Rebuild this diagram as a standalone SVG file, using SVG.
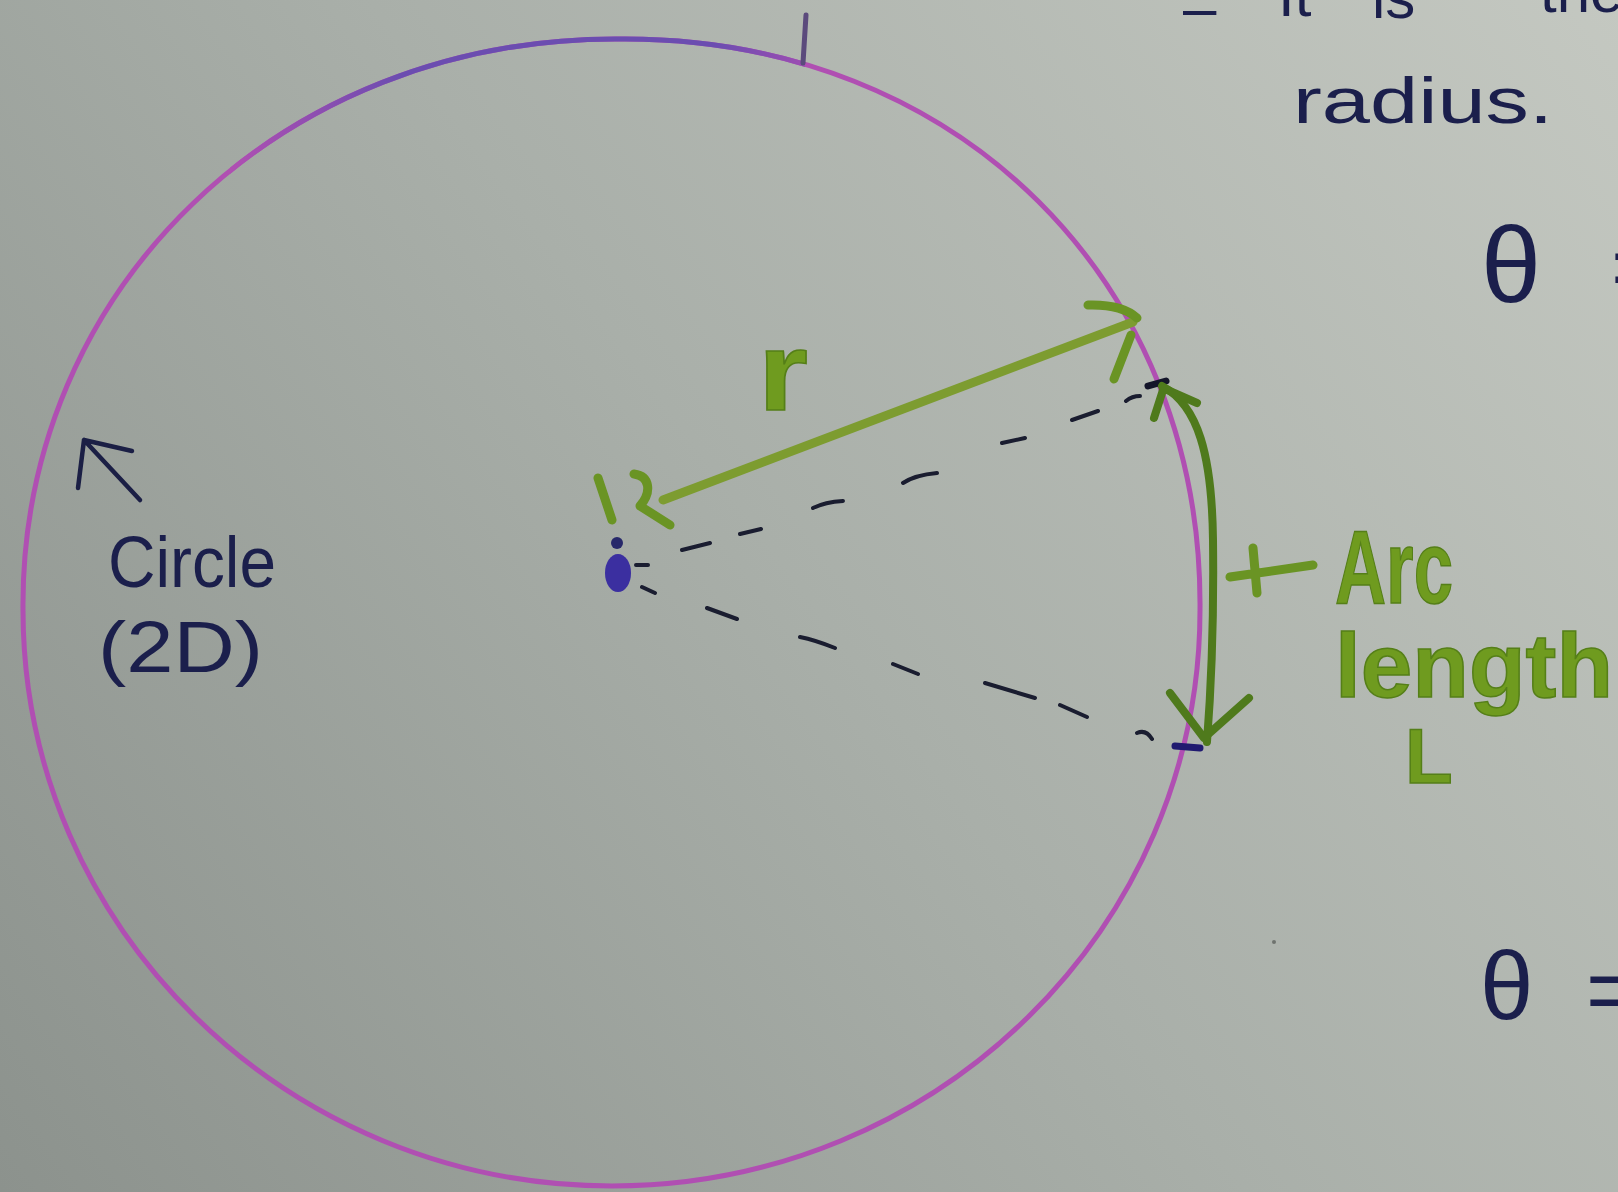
<svg xmlns="http://www.w3.org/2000/svg" width="1618" height="1192" viewBox="0 0 1618 1192">
  <defs>
    <linearGradient id="bg" gradientUnits="userSpaceOnUse" x1="1618" y1="0" x2="0" y2="1192">
      <stop offset="0" stop-color="#c4c8c1"/>
      <stop offset="0.5" stop-color="#a9afa9"/>
      <stop offset="1" stop-color="#8c928d"/>
    </linearGradient>
    <linearGradient id="topBlue" gradientUnits="userSpaceOnUse" x1="230" y1="0" x2="800" y2="0">
      <stop offset="0" stop-color="#b04fb2"/>
      <stop offset="0.3" stop-color="#6b4db0"/>
      <stop offset="0.85" stop-color="#6b4db0"/>
      <stop offset="1" stop-color="#9a4db2"/>
    </linearGradient>
    <clipPath id="topClip">
      <rect x="230" y="0" width="575" height="200"/>
    </clipPath>
    <path id="circlePath" d="M23,610 C20,290 280,37 619,39 C960,36 1203,285 1200,610 C1200,928 937,1186 612,1186 C287,1186 23,928 23,610 Z"/>
  </defs>
  <style>
    .ink { fill: none; stroke: #1b1f45; stroke-width: 4.5; stroke-linecap: round; stroke-linejoin: round; }
    .dash { fill: none; stroke: #1a1d30; stroke-width: 4; stroke-linecap: round; }
    .grn { fill: none; stroke: #6a9424; stroke-width: 9; stroke-linecap: round; stroke-linejoin: round; }
    .grnDark { fill: none; stroke: #4f7a1c; stroke-width: 8; stroke-linecap: round; stroke-linejoin: round; }
    .hand { font-family: "Liberation Sans", "DejaVu Sans", sans-serif; fill: #1b1f4c; }
    .gtext { font-family: "Liberation Sans", "DejaVu Sans", sans-serif; font-weight: bold; fill: #6f9b1f; stroke: #557f18; stroke-width: 1.5; }
  </style>

  <rect x="0" y="0" width="1618" height="1192" fill="url(#bg)"/>

  <g id="circle">
    <use href="#circlePath" fill="none" stroke="#b04fb2" stroke-width="5"/>
    <use href="#circlePath" fill="none" stroke="url(#topBlue)" stroke-width="5" clip-path="url(#topClip)"/>
    <path d="M806,15 L803,63" fill="none" stroke="#5b4a7c" stroke-width="5" stroke-linecap="round"/>
  </g>

  <g id="center">
    <ellipse cx="618" cy="573" rx="13" ry="19" fill="#3b2fa0"/>
    <circle cx="617" cy="543" r="6" fill="#27286a"/>
  </g>

  <g id="connectors">
    <!-- dashed radius lines -->
    <path class="dash" d="M636,565 L648,565 M682,550 L710,543 M740,534 L761,529 M813,508 Q825,502 843,501 M903,483 Q915,475 937,473 M1002,443 L1025,438 M1072,420 L1098,411 M1126,401 Q1132,396 1140,396"/>
    <path class="dash" d="M642,587 L655,593 M707,608 L737,619 M800,637 Q815,640 835,648 M893,664 L918,674 M985,683 L1035,698 M1060,705 L1087,717 M1137,733 Q1146,729 1152,739"/>
    <path d="M1148,386 L1166,381" fill="none" stroke="#14152a" stroke-width="7" stroke-linecap="round"/>
    <path d="M1175,746 L1200,748" fill="none" stroke="#201a70" stroke-width="7" stroke-linecap="round"/>
    <!-- radius arrow r -->
    <path d="M663,500 L1133,322" fill="none" stroke="#7d9c30" stroke-width="9" stroke-linecap="round"/>
    <path class="grn" d="M1088,305 Q1122,304 1137,318 M1131,335 L1114,379"/>
    <path class="grn" d="M634,474 C650,476 652,492 640,506 L670,525"/>
    <path class="grn" d="M598,478 L612,520"/>
    <!-- arc length arrow -->
    <path class="grnDark" d="M1162,386 C1198,405 1212,455 1213,540 C1214,620 1211,690 1207,742"/>
    <path class="grnDark" d="M1154,418 L1163,390 M1163,388 L1197,403"/>
    <path class="grnDark" d="M1170,693 L1204,738 L1249,698"/>
    <!-- pointer to arc label -->
    <path class="grn" d="M1230,577 L1313,565 M1253,548 L1257,593"/>
    <!-- pointer to circle -->
    <path class="ink" d="M140,500 L84,440 M78,488 L84,440 L132,451"/>
  </g>

  <g id="labels">
    <text class="hand" x="1183" y="28" font-size="60">–</text>
    <text class="hand" x="1278" y="16" font-size="60">It</text>
    <text class="hand" x="1372" y="18" font-size="60">is</text>
    <text class="hand" x="1540" y="12" font-size="60">the</text>
    <text class="hand" x="1293" y="123" font-size="64" textLength="260" lengthAdjust="spacingAndGlyphs">radius.</text>
    <text class="hand" x="1481" y="302" font-size="108">θ</text>
    <text class="hand" x="1611" y="298" font-size="90">=</text>
    <text class="hand" x="1480" y="1019" font-size="96">θ</text>
    <text class="hand" x="1586" y="1021" font-size="90">=</text>
    <text class="hand" x="108" y="587" font-size="72" textLength="168" lengthAdjust="spacingAndGlyphs">Circle</text>
    <text class="hand" x="98" y="672" font-size="72" textLength="165" lengthAdjust="spacingAndGlyphs">(2D)</text>
    <text class="gtext" x="758" y="410" font-size="112" textLength="50" lengthAdjust="spacingAndGlyphs">r</text>
    <text class="gtext" x="1335" y="603" font-size="104" textLength="118" lengthAdjust="spacingAndGlyphs">Arc</text>
    <text class="gtext" x="1335" y="697" font-size="90" textLength="278" lengthAdjust="spacingAndGlyphs">length</text>
    <text class="gtext" x="1405" y="783" font-size="78">L</text>
  </g>

  <circle cx="1274" cy="942" r="2" fill="#6e736e"/>
</svg>
